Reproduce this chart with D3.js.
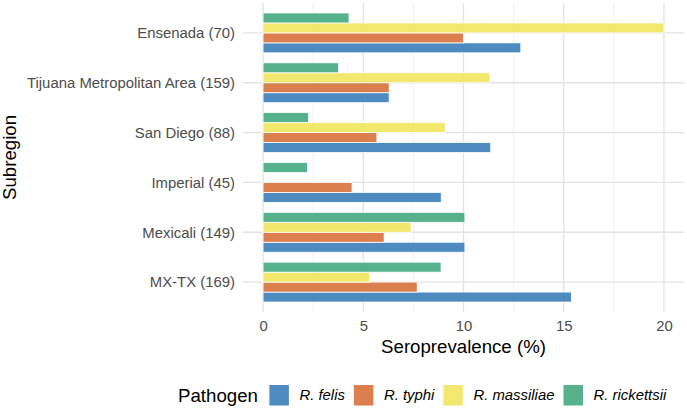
<!DOCTYPE html>
<html>
<head>
<meta charset="utf-8">
<script src="https://cdn.jsdelivr.net/npm/d3@7"></script>
<style>
  body { margin: 0; background: #fff; }
  text { font-family: "Liberation Sans", Arial, sans-serif; }
</style>
</head>
<body>
<div id="chart"></div>
<script>
// subregions, top to bottom
var subregions = ["Ensenada (70)", "Tijuana Metropolitan Area (159)", "San Diego (88)",
                  "Imperial (45)", "Mexicali (149)", "MX-TX (169)"];
var pathogens = ["R. felis", "R. typhi", "R. massiliae", "R. rickettsii"];
var colors = ["#3B7EBA", "#D8713B", "#F2E65E", "#44AA7F"];

// seroprevalence (%) per pathogen, same order as subregions
var felis      = [12.86, 6.29, 11.36, 8.89, 10.07, 15.38];
var typhi      = [10.0, 6.29, 5.68, 4.44, 6.04, 7.69];
var massiliae  = [20.0, 11.32, 9.09, 0, 7.38, 5.33];
var rickettsii = [4.29, 3.77, 2.27, 2.22, 10.07, 8.88];
var xTicks = [0, 5, 10, 15, 20];

var seriesVals = [felis, typhi, massiliae, rickettsii];
var data = [];
subregions.forEach(function(s, i) {
  pathogens.forEach(function(p, j) {
    data.push({ region: s, pathogen: p, value: seriesVals[j][i] });
  });
});

var w = 687, h = 409;
var padL = 243, padR = 684, padT = 3, padB = 312;

var svg = d3.select("#chart").append("svg")
  .attr("width", w)
  .attr("height", h);

var xscale = d3.scaleLinear()
  .domain([-1, 21])
  .range([padL, padR]);

var yscale = d3.scalePoint()
  .domain(subregions)
  .range([padT, padB])
  .padding(0.6);

var step = yscale.step();

// inner dodge, top bar is rickettsii
var inner = d3.scaleBand()
  .domain(pathogens.slice().reverse())
  .range([-0.4 * step, 0.4 * step]);

var color = d3.scaleOrdinal().domain(pathogens).range(colors);

// minor grid
svg.append("g").selectAll("line")
  .data([2.5, 7.5, 12.5, 17.5])
  .enter().append("line")
  .attr("x1", function(d) { return xscale(d); })
  .attr("x2", function(d) { return xscale(d); })
  .attr("y1", padT).attr("y2", padB)
  .style("stroke", "#EBEBEB")
  .style("stroke-width", 0.8);

// major grid
svg.append("g").selectAll("line")
  .data(xTicks)
  .enter().append("line")
  .attr("x1", function(d) { return xscale(d); })
  .attr("x2", function(d) { return xscale(d); })
  .attr("y1", padT).attr("y2", padB)
  .style("stroke", "#E3E3E3")
  .style("stroke-width", 1.3);

svg.append("g").selectAll("line")
  .data(subregions)
  .enter().append("line")
  .attr("x1", padL).attr("x2", padR)
  .attr("y1", function(d) { return yscale(d); })
  .attr("y2", function(d) { return yscale(d); })
  .style("stroke", "#E3E3E3")
  .style("stroke-width", 1.3);

// bars
svg.append("g").selectAll("rect")
  .data(data.filter(function(d) { return d.value > 0; }))
  .enter().append("rect")
  .attr("x", xscale(0))
  .attr("y", function(d) { return yscale(d.region) + inner(d.pathogen); })
  .attr("width", function(d) { return xscale(d.value) - xscale(0); })
  .attr("height", inner.bandwidth())
  .style("fill", function(d) { return color(d.pathogen); })
  .style("fill-opacity", 0.9)
  .style("stroke", "#fff")
  .style("stroke-width", 0.8);

// x axis labels
var xaxis = d3.axisBottom(xscale).tickValues(xTicks).tickSize(0).tickPadding(0);
var gx = svg.append("g")
  .attr("transform", "translate(0,320)")
  .call(xaxis);
gx.select(".domain").remove();
gx.selectAll("text")
  .attr("dy", "0.71em")
  .style("font-size", "14.9px")
  .style("font-family", '"Liberation Sans", Arial, sans-serif')
  .style("fill", "#4D4D4D");

// y axis labels
var yaxis = d3.axisLeft(yscale).tickSize(0).tickPadding(8);
var gy = svg.append("g")
  .attr("transform", "translate(" + padL + ",0)")
  .call(yaxis);
gy.select(".domain").remove();
gy.selectAll("text")
  .style("font-size", "14.9px")
  .style("font-family", '"Liberation Sans", Arial, sans-serif')
  .style("fill", "#4D4D4D");

// axis titles
svg.append("text")
  .attr("x", (padL + padR) / 2)
  .attr("y", 353)
  .attr("text-anchor", "middle")
  .style("font-size", "18.67px")
  .style("fill", "#000")
  .text("Seroprevalence (%)");

svg.append("text")
  .attr("transform", "translate(16," + ((padT + padB) / 2) + ") rotate(-90)")
  .attr("text-anchor", "middle")
  .style("font-size", "18.67px")
  .style("fill", "#000")
  .text("Subregion");

// legend
var legend = svg.append("g");
var lx = 178, ly = 395;
var title = legend.append("text")
  .attr("x", lx).attr("y", ly + 6.5)
  .style("font-size", "18.67px")
  .text("Pathogen");
lx += title.node().getComputedTextLength() + 11.5;

pathogens.forEach(function(p) {
  legend.append("rect")
    .attr("x", lx).attr("y", ly - 10)
    .attr("width", 19.5).attr("height", 20.5)
    .style("fill", color(p))
    .style("fill-opacity", 0.9);
  lx += 19.5 + 10.5;
  var t = legend.append("text")
    .attr("x", lx).attr("y", ly + 5.3)
    .style("font-size", "14.9px")
    .style("font-style", "italic")
    .style("fill", "#000")
    .text(p);
  lx += t.node().getComputedTextLength() + 9;
});
</script>
</body>
</html>
